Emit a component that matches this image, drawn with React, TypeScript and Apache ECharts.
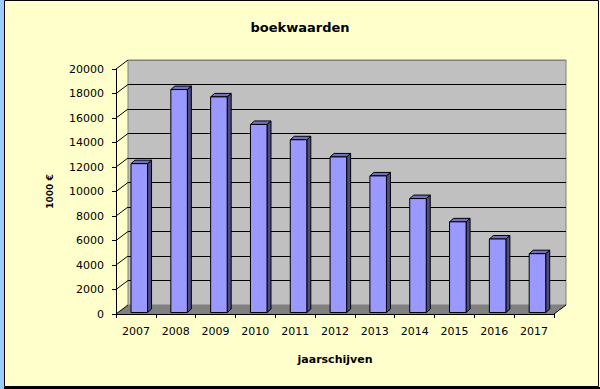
import React, { useEffect, useRef } from "react";
import * as echarts from "echarts";

const categories = ["2007", "2008", "2009", "2010", "2011", "2012", "2013", "2014", "2015", "2016", "2017"];
const values = [12150, 18200, 17600, 15350, 14100, 12700, 11150, 9300, 7400, 6000, 4800];
const yTicks = [0, 2000, 4000, 6000, 8000, 10000, 12000, 14000, 16000, 18000, 20000];
const titleText = "boekwaarden";
const xName = "jaarschijven";
const yName = "1000 €";

const DX = 12;
const DY = -9;
const FONT = "'DejaVu Sans', Verdana, sans-serif";

export default function App() {
  const ref = useRef<HTMLDivElement>(null);
  useEffect(() => {
    if (!ref.current) return;
    const chart = echarts.init(ref.current, null, { renderer: "svg" });
    const splitColors = yTicks.map((t, i) => (i === yTicks.length - 1 ? "#808080" : "#000000"));
    const option: any = {
      animation: false,
      backgroundColor: "#FFFFCC",
      title: {
        text: titleText,
        left: "center",
        top: 16,
        textStyle: { fontFamily: FONT, fontSize: 13, fontWeight: "bold", color: "#000" },
      },
      graphic: [
        { type: "rect", shape: { x: 0, y: 0, width: 4, height: 389 }, style: { fill: "#99CCFF" }, z: 10 },
        {
          type: "rect",
          shape: { x: 4.5, y: 0.5, width: 594, height: 386 },
          style: { fill: "none", stroke: "#000", lineWidth: 1 },
          z: 10,
        },
        { type: "rect", shape: { x: 4, y: 387, width: 596, height: 2 }, style: { fill: "#000" }, z: 10 },
      ],
      grid: [
        { left: 116, right: 46, top: 69, bottom: 75, containLabel: false },
        {
          left: 116 + DX,
          right: 46 - DX,
          top: 69 + DY,
          bottom: 75 - DY,
          show: true,
          backgroundColor: "#C0C0C0",
          borderColor: "#808080",
          borderWidth: 1,
          z: 0,
        },
      ],
      xAxis: [
        {
          type: "category",
          gridIndex: 0,
          data: categories,
          z: 5,
          axisLine: { lineStyle: { color: "#000", width: 1 } },
          axisTick: { show: true, length: 4, lineStyle: { color: "#000" } },
          axisLabel: { color: "#000", fontFamily: FONT, fontSize: 11, margin: 12 },
          splitLine: { show: false },
          name: xName,
          nameLocation: "middle",
          nameGap: 40,
          nameTextStyle: { fontFamily: FONT, fontSize: 11, fontWeight: "bold", color: "#000" },
        },
        {
          type: "value",
          gridIndex: 1,
          show: false,
          min: 0,
          max: 1,
          splitLine: { show: false },
        },
      ],
      yAxis: [
        {
          type: "value",
          gridIndex: 0,
          min: 0,
          max: 20000,
          interval: 2000,
          z: 5,
          axisLine: { show: true, lineStyle: { color: "#000", width: 1 } },
          axisTick: { show: true, length: 4, lineStyle: { color: "#000" } },
          axisLabel: {
            color: "#000",
            fontFamily: FONT,
            fontSize: 11,
            margin: 12,
            formatter: (v: number) => String(v),
          },
          splitLine: { show: false },
          name: yName,
          nameLocation: "middle",
          nameGap: 62,
          nameRotate: 90,
          nameTextStyle: { fontFamily: FONT, fontSize: 9, fontWeight: "bold", color: "#000" },
        },
        {
          type: "value",
          gridIndex: 1,
          min: 0,
          max: 20000,
          interval: 2000,
          z: 1,
          axisLine: { show: false },
          axisTick: { show: false },
          axisLabel: { show: false },
          splitLine: { show: true, lineStyle: { color: splitColors, width: 1 } },
        },
      ],
      series: [
        {
          type: "custom",
          name: "walls",
          xAxisIndex: 0,
          yAxisIndex: 0,
          z: 2,
          silent: true,
          data: [[0, 0]],
          renderItem: (params: any, api: any) => {
            const band = api.size([1, 0])[0];
            const first = api.coord([0, 0]);
            const last = api.coord([categories.length - 1, 0]);
            const L = first[0] - band / 2;
            const R = last[0] + band / 2;
            const y0 = first[1];
            const children: any[] = [
              {
                type: "polygon",
                shape: {
                  points: [
                    [L, y0],
                    [R, y0],
                    [R + DX, y0 + DY],
                    [L + DX, y0 + DY],
                  ],
                },
                style: { fill: "#808080", stroke: "none" },
              },
              {
                type: "line",
                shape: { x1: R, y1: y0, x2: R + DX, y2: y0 + DY },
                style: { stroke: "#000", lineWidth: 1 },
              },
            ];
            yTicks.forEach((t) => {
              const p = api.coord([0, t]);
              children.push({
                type: "line",
                shape: { x1: L, y1: p[1], x2: L + DX, y2: p[1] + DY },
                style: { stroke: "#000", lineWidth: 1 },
              });
            });
            return { type: "group", children };
          },
        },
        {
          type: "custom",
          name: "boekwaarden",
          xAxisIndex: 0,
          yAxisIndex: 0,
          z: 3,
          data: values.map((v, i) => [i, v]),
          encode: { x: 0, y: 1 },
          renderItem: (params: any, api: any) => {
            const i = api.value(0);
            const v = api.value(1);
            const base = api.coord([i, 0]);
            const top = api.coord([i, v]);
            const band = api.size([1, 0])[0];
            const w = band * 0.415;
            const x0 = base[0] - band * 0.123;
            const x1 = x0 + w;
            const yb = base[1] - 1.5;
            const yt = top[1] - 1.5;
            const dx = 4;
            const dy = -3.5;
            const stroke = { stroke: "#000", lineWidth: 1 };
            return {
              type: "group",
              children: [
                {
                  type: "polygon",
                  shape: { points: [[x1, yb], [x1 + dx, yb + dy], [x1 + dx, yt + dy], [x1, yt]] },
                  style: { fill: "#4C4C80", ...stroke },
                },
                {
                  type: "polygon",
                  shape: { points: [[x0, yt], [x1, yt], [x1 + dx, yt + dy], [x0 + dx, yt + dy]] },
                  style: { fill: "#7070BF", ...stroke },
                },
                {
                  type: "rect",
                  shape: { x: x0, y: yt, width: w, height: yb - yt },
                  style: { fill: "#9999FF", ...stroke },
                },
              ],
            };
          },
        },
      ],
    };
    chart.setOption(option);
    return () => chart.dispose();
  }, []);
  return (
    <div
      ref={ref}
      style={{ position: "fixed", left: 0, top: 0, width: 600, height: 389 }}
    />
  );
}
